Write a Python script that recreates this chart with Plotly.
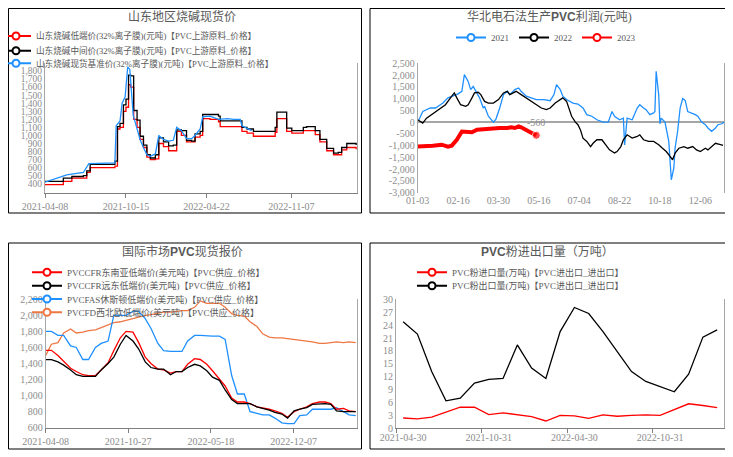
import plotly.graph_objects as go

# reference canvas is 733x457; the page body adds an 8px margin, so the figure is
# drawn 8px smaller and every page position is shifted by that margin
PAGE_W, PAGE_H = 733, 457
OFF = 8
W, H = PAGE_W - OFF, PAGE_H - OFF

FONT = "Liberation Serif, Noto Sans CJK SC, serif"
TEXT_COLOR = "#595959"
TICK_COLOR = "#8c8c8c"
AXIS_COLOR = "#a6a6a6"
RED, BLACK, BLUE, ORANGE = "#ff0000", "#000000", "#1e90ff", "#ee7744"

# ---------------- top-left: 山东地区烧碱现货价 ----------------
naoh_dates = [
    "2021-04-08", "2021-05-21", "2021-06-10", "2021-07-07", "2021-07-15", "2021-07-23",
    "2021-09-19", "2021-09-25", "2021-10-01", "2021-10-09", "2021-10-15", "2021-10-21",
    "2021-10-26", "2021-11-02", "2021-11-10", "2021-11-17", "2021-11-25", "2021-12-03",
    "2021-12-11", "2021-12-23", "2021-12-31", "2022-01-11", "2022-01-23", "2022-02-03",
    "2022-02-11", "2022-02-22", "2022-03-06", "2022-03-18", "2022-03-26", "2022-04-07",
    "2022-04-13", "2022-04-30", "2022-05-20", "2022-05-24", "2022-07-10", "2022-07-14",
    "2022-07-26", "2022-08-10", "2022-09-26", "2022-09-30", "2022-10-04", "2022-10-23",
    "2022-10-27", "2022-11-08", "2022-12-05", "2022-12-13", "2023-01-02", "2023-01-13",
    "2023-01-29", "2023-02-14", "2023-02-25", "2023-03-05", "2023-03-17", "2023-04-01",
    "2023-04-08",
]
naoh_low = [
    390, 430, 470, 470, 540, 600, 620, 1080, 1100, 1300, 1350, 1630, 1600, 1200, 1100,
    950, 850, 730, 700, 710, 900, 860, 810, 810, 1050, 1000, 920, 920, 980, 1000, 1210,
    1200, 1170, 1110, 1110, 1050, 1030, 990, 990, 1040, 1210, 1210, 1050, 1030, 1060,
    1060, 1010, 920, 810, 760, 760, 820, 850, 850, 830,
]
naoh_mid = [
    430, 470, 490, 500, 560, 640, 680, 1110, 1150, 1380, 1450, 1750, 1740, 1310, 1190,
    990, 880, 760, 720, 760, 970, 920, 870, 880, 1070, 1060, 940, 930, 1020, 1050, 1260,
    1260, 1240, 1180, 1180, 1100, 1080, 1050, 1050, 1100, 1290, 1290, 1090, 1060, 1100,
    1110, 1060, 950, 840, 780, 790, 850, 900, 900, 880,
]
naoh_base_dates = [
    "2021-04-08", "2021-05-29", "2021-07-07", "2021-07-15", "2021-07-20", "2021-09-19",
    "2021-09-22", "2021-10-01", "2021-10-06", "2021-10-13", "2021-10-19", "2021-10-24",
    "2021-11-01", "2021-11-09", "2021-11-17", "2021-11-25", "2021-12-03", "2021-12-11",
    "2021-12-23", "2021-12-31", "2022-01-11", "2022-01-23", "2022-02-03", "2022-02-11",
    "2022-02-22", "2022-03-06", "2022-03-18", "2022-03-26", "2022-04-07", "2022-04-13",
    "2022-04-30", "2022-05-20", "2022-06-10", "2022-06-25", "2022-07-10", "2022-07-14",
    "2022-07-26", "2022-08-06",
]
naoh_base = [
    420, 510, 540, 600, 650, 660, 1120, 1180, 1400, 1480, 1850, 1820, 1250, 1100, 950,
    850, 760, 740, 770, 1000, 950, 930, 940, 1100, 1060, 960, 960, 1000, 1080, 1230,
    1240, 1200, 1210, 1200, 1200, 1120, 1090, 1060,
]
naoh_xticks = ["2021-04-08", "2021-10-15", "2022-04-22", "2022-11-07"]

# ---------------- top-right: 华北电石法生产PVC利润 ----------------
season_labels = ["01-03", "02-16", "03-30", "05-16", "07-04", "08-22", "10-18", "12-06"]
season_ticks = [0, 32, 64, 96, 128, 160, 192, 224]

p2021_x = [
    1, 4, 10, 14, 18, 20, 24, 28, 32, 35, 36, 37, 40, 42, 44, 47, 49, 52, 53, 56,
    60, 62, 65, 68, 71, 73, 77, 80, 82, 86, 90, 94, 100, 105, 108, 110, 113, 115, 118, 121,
    123, 127, 131, 134, 138, 142, 147, 151, 154, 156, 160, 163, 164, 166, 170, 174, 176, 179, 181, 184,
    187, 188, 189, 191, 192, 193, 196, 199, 200, 201, 203, 204, 206, 208, 210, 212, 214, 217, 220, 222,
    225, 228, 230, 233, 236, 238, 241, 243,
]
p2021_y = [
    100, 450, 600, 600, 740, 810, 1030, 1100, 1200, 1310, 1660, 2020, 1730, 1380, 1520, 1240, 1030, 600, 670, 250,
    0, 130, 600, 1170, 1310, 1170, 1380, 1450, 1310, 1100, 1030, 960, 960, 910, 1170, 1590, 1380, 1100, 960, 880,
    810, 770, 600, 320, 250, 100, 0, 0, 450, 250, 100, 170, -970, 170, 100, 600, 740, 600, 530, 320,
    390, 450, 2160, 1170, -70, 170, 0, -820, -1530, -2450, -1950, -1100, -390, 600, 1000, 920, 450, 390, 320, 250,
    0, -110, -250, -390, -250, -110, -70, 0,
]
p2022_x = [
    0, 4, 7, 11, 16, 22, 26, 29, 31, 34, 38, 40, 43, 45, 48, 50, 53, 56, 60, 64,
    68, 71, 73, 78, 82, 86, 90, 94, 98, 102, 105, 109, 113, 115, 118, 120, 122, 125, 127, 129,
    131, 134, 137, 139, 142, 146, 148, 152, 156, 158, 161, 163, 166, 170, 174, 176, 179, 183, 187, 191,
    194, 197, 200, 202, 204, 207, 211, 214, 218, 221, 224, 228, 230, 233, 236, 240, 242,
]
p2022_y = [
    100, -40, 170, 320, 530, 740, 1030, 1240, 1030, 740, 670, 740, 1030, 1240, 1270, 1170, 880, 810, 810, 960,
    1240, 1310, 1170, 1310, 1170, 1030, 910, 740, 600, 530, 600, 810, 960, 1030, 880, 600, 250, 0, -110, -330,
    -680, -820, -1040, -900, -750, -750, -900, -1180, -1310, -1250, -1040, -750, -540, -680, -610, -540, -750, -820, -820, -960,
    -1110, -1250, -1460, -1600, -1320, -1110, -1040, -1110, -1040, -1180, -1250, -1110, -1180, -1040, -900, -960, -990,
]
p2023_x = [0, 7, 12, 19, 24, 27, 31, 35, 39, 43, 47, 51, 55, 60, 65, 71, 74, 77, 80, 82, 85, 88, 90, 94]
p2023_y = [
    -1040, -1040, -1000, -960, -1040, -1000, -750, -400, -430, -430, -320, -300, -320, -280, -250, -250,
    -220, -250, -180, -220, -320, -410, -450, -560,
]
profit_yticks = [2500, 2000, 1500, 1000, 500, 0, -500, -1000, -1500, -2000, -2500, -3000]

# ---------------- bottom-left: 国际市场PVC现货报价 ----------------
intl_dates = [
    "2021-04-08", "2021-04-22", "2021-05-08", "2021-05-22", "2021-06-08", "2021-06-22",
    "2021-07-08", "2021-07-22", "2021-08-08", "2021-08-22", "2021-09-08", "2021-09-22",
    "2021-10-08", "2021-10-22", "2021-11-08", "2021-11-22", "2021-12-08", "2021-12-22",
    "2022-01-08", "2022-01-22", "2022-02-08", "2022-02-22", "2022-03-08", "2022-03-22",
    "2022-04-08", "2022-04-22", "2022-05-08", "2022-05-22", "2022-06-08", "2022-06-22",
    "2022-07-08", "2022-07-22", "2022-08-08", "2022-08-22", "2022-09-08", "2022-09-22",
    "2022-10-08", "2022-10-22", "2022-11-08", "2022-11-22", "2022-12-08", "2022-12-22",
    "2023-01-08", "2023-01-22", "2023-02-08", "2023-02-22", "2023-03-08", "2023-03-22",
    "2023-04-08", "2023-04-22", "2023-05-08",
]
cfr_sea = [
    1564, 1564, 1500, 1430, 1340, 1300, 1260, 1250, 1250, 1320, 1410, 1560, 1720, 1800, 1790, 1660, 1480,
    1400, 1330, 1320, 1280, 1300, 1300, 1390, 1460, 1450, 1390, 1310, 1210, 1120, 970, 920, 920, 900,
    860, 850, 830, 810, 780, 730, 800, 830, 860, 900, 920, 920, 900, 830, 840, 810, 800,
]
cfr_fe = [
    1448, 1448, 1420, 1380, 1320, 1260, 1240, 1240, 1240, 1320, 1400, 1480, 1640, 1750, 1680, 1580, 1420,
    1350, 1330, 1330, 1260, 1300, 1300, 1350, 1390, 1370, 1310, 1230, 1190, 1070, 950, 900, 900, 900,
    860, 840, 820, 790, 770, 720, 810, 830, 850, 890, 900, 900, 890, 810, 800, 800, 800,
]
fas_houston = [
    1800, 1800, 1750, 1750, 1620, 1600, 1450, 1450, 1600, 1650, 1680, 2000, 2000, 2000, 2050, 2050, 1960,
    1840, 1650, 1560, 1550, 1550, 1550, 1680, 1750, 1750, 1740, 1740, 1740, 1700, 1250, 1020, 1020, 800,
    780, 760, 760, 720, 660, 650, 650, 750, 760, 830, 830, 830, 830, 850, 800, 760, 750,
]
fd_nwe = [
    1500, 1640, 1660, 1780, 1830, 1780, 1790, 1810, 1820, 1850, 1880, 1910, 1920, 1940, 1960, 1980, 2000,
    2010, 2030, 2040, 2040, 2050, 2060, 2060, 2100, 2180, 2150, 2150, 2150, 2100, 2020, 2000, 1990, 1920,
    1860, 1770, 1730, 1720, 1720, 1710, 1700, 1690, 1680, 1670, 1650, 1650, 1660, 1670, 1660, 1670, 1660,
]
intl_xticks = ["2021-04-08", "2021-10-27", "2022-05-18", "2022-12-07"]

# ---------------- bottom-right: PVC粉进出口量 ----------------
trade_months = [
    "2021-04-30", "2021-05-31", "2021-06-30", "2021-07-31", "2021-08-31", "2021-09-30",
    "2021-10-31", "2021-11-30", "2021-12-31", "2022-01-31", "2022-02-28", "2022-03-31",
    "2022-04-30", "2022-05-31", "2022-06-30", "2022-07-31", "2022-08-31", "2022-09-30",
    "2022-10-31", "2022-11-30", "2022-12-31", "2023-01-31", "2023-02-28",
]
pvc_import = [2.4, 2.2, 2.6, 3.8, 4.9, 4.9, 3.2, 3.6, 3.2, 2.7, 1.7, 3.0, 2.9, 2.3, 3.1, 2.8, 3.0, 3.1, 3.0, 4.3, 5.7, 5.3, 4.8]
pvc_export = [24.8, 21.9, 13.2, 6.4, 7.0, 10.5, 11.4, 11.6, 19.4, 14.0, 11.6, 22.5, 28.1, 26.7, 22.5, 17.8, 13.2, 10.9, 9.7, 8.5, 12.6, 21.2, 22.9]


def fx(px):
    # page pixel -> paper fraction
    return (px - OFF) / W


def fy(py):
    return 1 - (py - OFF) / H


def legend_box(x_px, y_px, orientation="v", xanchor="left", size=9):
    return dict(
        x=fx(x_px), y=fy(y_px), xanchor=xanchor, yanchor="middle",
        orientation=orientation, bgcolor="rgba(0,0,0,0)", borderwidth=0,
        font=dict(family=FONT, size=size, color=TEXT_COLOR),
    )


def legend_entry(name, color, legend, xa, ya):
    return go.Scatter(
        x=[None], y=[None], mode="lines+markers", name=name, legend=legend,
        xaxis=xa, yaxis=ya, hoverinfo="skip",
        line=dict(color=color, width=2),
        marker=dict(symbol="circle", size=7, color="white", line=dict(color=color, width=2)),
    )


def series(x, y, color, xa, ya, width=1.3, shape="linear"):
    return go.Scatter(
        x=x, y=y, mode="lines", showlegend=False, xaxis=xa, yaxis=ya,
        line=dict(color=color, width=width, shape=shape),
    )


fig = go.Figure()

# top-left
fig.add_trace(series(naoh_dates, naoh_low, RED, "x", "y", shape="hv"))
fig.add_trace(series(naoh_dates, naoh_mid, BLACK, "x", "y", shape="hv"))
fig.add_trace(series(naoh_base_dates, naoh_base, BLUE, "x", "y"))
fig.add_trace(legend_entry("山东烧碱低端价(32%离子膜)(元吨)【PVC上游原料_价格】", RED, "legend", "x", "y"))
fig.add_trace(legend_entry("山东烧碱中间价(32%离子膜)(元吨)【PVC上游原料_价格】", BLACK, "legend2", "x", "y"))
fig.add_trace(legend_entry("山东烧碱现货基准价(32%离子膜)(元吨)【PVC上游原料_价格】", BLUE, "legend3", "x", "y"))

# top-right
fig.add_trace(series(p2021_x, p2021_y, BLUE, "x2", "y2"))
fig.add_trace(series(p2022_x, p2022_y, BLACK, "x2", "y2"))
fig.add_trace(go.Scatter(
    x=p2023_x, y=p2023_y, mode="lines+markers", showlegend=False, xaxis="x2", yaxis="y2",
    line=dict(color=RED, width=4),
    marker=dict(color=RED, size=[0] * (len(p2023_x) - 1) + [8]),
))
for name, color in [("2021", BLUE), ("2022", BLACK), ("2023", RED)]:
    fig.add_trace(legend_entry(name, color, "legend4", "x2", "y2"))

# bottom-left
fig.add_trace(series(intl_dates, fd_nwe, ORANGE, "x3", "y3"))
fig.add_trace(series(intl_dates, fas_houston, BLUE, "x3", "y3"))
fig.add_trace(series(intl_dates, cfr_sea, RED, "x3", "y3"))
fig.add_trace(series(intl_dates, cfr_fe, BLACK, "x3", "y3"))
fig.add_trace(legend_entry("PVCCFR东南亚低端价(美元吨)【PVC供应_价格】", RED, "legend5", "x3", "y3"))
fig.add_trace(legend_entry("PVCCFR远东低端价(美元吨)【PVC供应_价格】", BLACK, "legend6", "x3", "y3"))
fig.add_trace(legend_entry("PVCFAS休斯顿低端价(美元吨)【PVC供应_价格】", BLUE, "legend7", "x3", "y3"))
fig.add_trace(legend_entry("PVCFD西北欧低端价(美元吨)【PVC供应_价格】", ORANGE, "legend8", "x3", "y3"))

# bottom-right
fig.add_trace(series(trade_months, pvc_import, RED, "x4", "y4"))
fig.add_trace(series(trade_months, pvc_export, BLACK, "x4", "y4"))
fig.add_trace(legend_entry("PVC粉进口量(万吨)【PVC进出口_进出口】", RED, "legend9", "x4", "y4"))
fig.add_trace(legend_entry("PVC粉出口量(万吨)【PVC进出口_进出口】", BLACK, "legend10", "x4", "y4"))

tickfont = dict(family=FONT, size=10, color=TICK_COLOR)
base_x = dict(showgrid=False, zeroline=False, tickfont=tickfont, ticks="outside", ticklen=4,
              tickcolor="#7f7f7f", showline=True, linecolor="#7f7f7f", linewidth=1,
              automargin=False, tickangle=0)
base_y = dict(showgrid=False, zeroline=False, tickfont=tickfont, ticks="", showline=True,
              linecolor=AXIS_COLOR, linewidth=1, mirror=True, automargin=False)

fig.update_layout(
    width=W, height=H, margin=dict(l=0, r=0, t=0, b=0, autoexpand=False),
    paper_bgcolor="white", plot_bgcolor="white",
    font=dict(family=FONT, color=TEXT_COLOR),
    xaxis=dict(base_x, domain=[fx(45), fx(357)], anchor="y", type="date",
               range=["2021-04-08", "2023-04-10"], tickvals=naoh_xticks, tickformat="%Y-%m-%d"),
    yaxis=dict(base_y, domain=[fy(193), fy(63)], anchor="x", range=[285, 1900],
               tickvals=list(range(400, 1900, 100)), tickformat=",d",
               tickfont=dict(family=FONT, size=9.5, color=TICK_COLOR)),
    xaxis2=dict(base_x, domain=[fx(417.7), fx(724.3)], anchor="y2", range=[0, 243],
                tickvals=season_ticks, ticktext=season_labels, showline=False, ticks=""),
    yaxis2=dict(base_y, domain=[fy(192.7), fy(63.3)], anchor="x2", range=[-3000, 2500],
                tickvals=profit_yticks, ticktext=[f"{v:,}" for v in profit_yticks],
                zeroline=True, zerolinecolor=AXIS_COLOR, zerolinewidth=1.5),
    xaxis3=dict(base_x, domain=[fx(45.7), fx(357.3)], anchor="y3", type="date",
                range=["2021-04-08", "2023-05-12"], tickvals=intl_xticks, tickformat="%Y-%m-%d"),
    yaxis3=dict(base_y, domain=[fy(427.7), fy(299.3)], anchor="x3", range=[600, 2200],
                dtick=200, tickformat=",d"),
    xaxis4=dict(base_x, domain=[fx(396), fx(724.3)], anchor="y4", type="category",
                range=[-0.5, 22.5], tickmode="linear", tick0=0, dtick=6, tickson="boundaries"),
    yaxis4=dict(base_y, domain=[fy(428.3), fy(299.3)], anchor="x4", range=[0, 30], dtick=3),
    legend=legend_box(-4, 36, size=8.6),
    legend2=legend_box(-4, 50.7, size=8.6),
    legend3=legend_box(-4, 63.3, size=8.6),
    legend4=legend_box(546, 37.5, orientation="h", xanchor="center"),
    legend5=legend_box(27, 272.3),
    legend6=legend_box(27, 285.7),
    legend7=legend_box(27, 299),
    legend8=legend_box(27, 312.3),
    legend9=legend_box(412, 272.3),
    legend10=legend_box(412, 285.7),
)

# panel frames (left edge clipped to the figure's own edge)
for x0, y0, x1, y1 in [(8.5, 8.5, 361.5, 213), (370, 8.5, 728, 213), (8.5, 243, 361.5, 449), (370, 243, 728, 449)]:
    fig.add_shape(type="rect", xref="paper", yref="paper", x0=fx(x0), x1=fx(x1), y0=fy(y1), y1=fy(y0),
                  line=dict(color="#000000", width=1), fillcolor="rgba(0,0,0,0)")

pvc = '<b><span style="font-family:Liberation Sans, sans-serif">PVC</span></b>'
titles = [
    (181.7, 16.7, "山东地区烧碱现货价"),
    (549.3, 16.7, f"华北电石法生产{pvc}利润(元吨)"),
    (182.5, 251, f"国际市场{pvc}现货报价"),
    (547.7, 251.7, f"{pvc}粉进出口量（万吨）"),
]
for x, y, text in titles:
    fig.add_annotation(x=fx(x), y=fy(y), xref="paper", yref="paper", text=text, showarrow=False,
                       xanchor="center", yanchor="middle",
                       font=dict(family=FONT, size=12, color=TEXT_COLOR))

fig.add_annotation(x=p2023_x[-1], y=0, xref="x2", yref="y2", text=f"{p2023_y[-1]}", showarrow=False,
                   font=dict(family=FONT, size=10, color=TICK_COLOR))

fig.write_html("out.html")
